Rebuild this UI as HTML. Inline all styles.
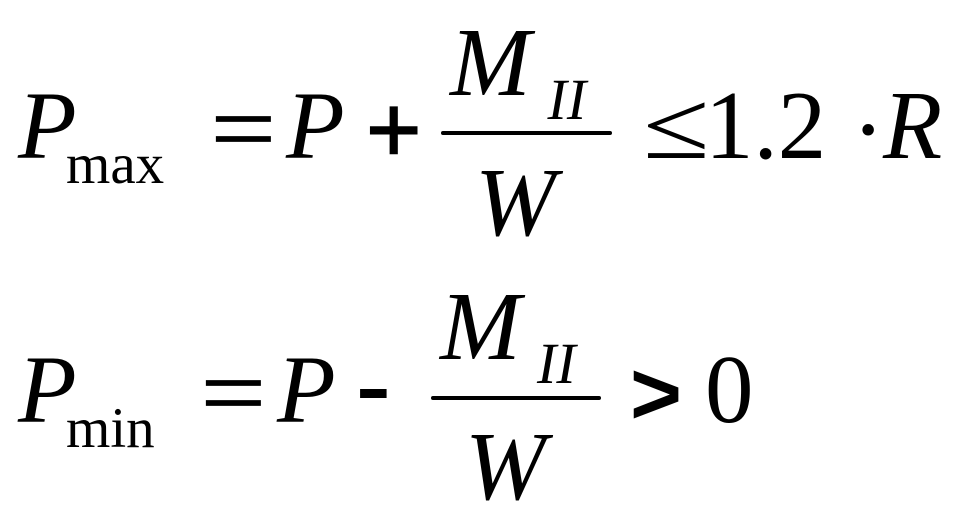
<!DOCTYPE html>
<html><head><meta charset="utf-8"><style>
html,body{margin:0;padding:0;background:#fff;width:964px;height:519px;overflow:hidden}
svg{display:block}
text{font-family:"Liberation Serif",serif;fill:#000}
.i{font-style:italic}
.s{font-family:"Liberation Sans",sans-serif}
.b{font-family:"Liberation Sans",sans-serif;font-weight:bold}
.t{stroke:#000;stroke-width:1.4px}
.e{stroke:#000;stroke-width:.7px}
</style></head><body>
<svg width="964" height="519" viewBox="0 0 964 519" xmlns="http://www.w3.org/2000/svg">
<text class="i" x="18" y="158" font-size="96">P</text>
<text x="66" y="183" font-size="57">max</text>
<text class="e" transform="translate(210.5,162) scale(1.2,1.03)" font-size="97">=</text>
<text class="i" x="286" y="158" font-size="96">P</text>
<text class="s t" x="366" y="162" font-size="95">+</text>
<text class="i" x="450" y="95" font-size="97">M</text>
<text class="i" x="547.5" y="119" font-size="58">II</text>
<line x1="443" y1="133" x2="610" y2="133" stroke="#000" stroke-width="4" stroke-linecap="round"/>
<text class="i" x="475" y="235" font-size="97">W</text>
<text transform="translate(643,158) scale(1.25,1)" font-size="97">≤</text>
<text x="705" y="158" font-size="97">1.2</text>
<text x="852" y="162" font-size="97">·</text>
<text class="i" x="883" y="158" font-size="97">R</text>
<text class="i" x="18" y="422" font-size="96">P</text>
<text x="66" y="447" font-size="57">min</text>
<text class="e" transform="translate(200.5,426) scale(1.2,1.03)" font-size="97">=</text>
<text class="i" x="277" y="422" font-size="96">P</text>
<text class="b" transform="translate(356,413) scale(1.45,1.05)" font-size="72">-</text>
<text class="i" x="440" y="359" font-size="97">M</text>
<text class="i" x="537" y="383" font-size="58">II</text>
<line x1="433" y1="398" x2="599" y2="398" stroke="#000" stroke-width="4" stroke-linecap="round"/>
<text class="i" x="465" y="499" font-size="97">W</text>
<text class="b" x="630" y="424" font-size="89">&gt;</text>
<text x="705" y="422" font-size="97">0</text>
</svg>
</body></html>
